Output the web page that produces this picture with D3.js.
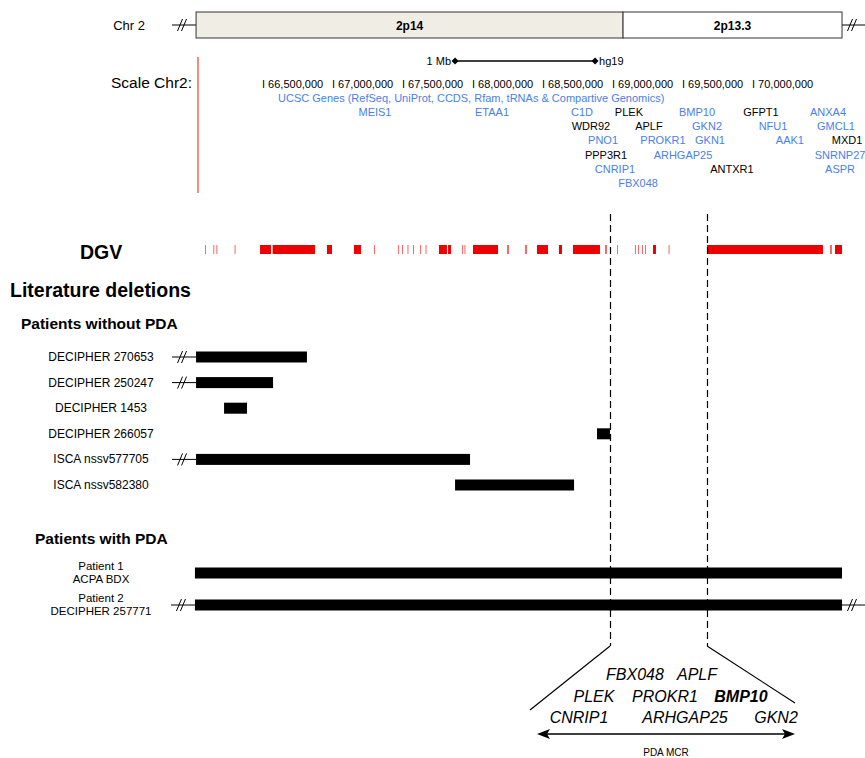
<!DOCTYPE html>
<html>
<head>
<meta charset="utf-8">
<script src="https://d3js.org/d3.v7.min.js"></script>
<style>
  body { margin: 0; background: #fff; }
  svg { display: block; font-family: "Liberation Sans", Arial, sans-serif; }
</style>
</head>
<body>
<span></span>
<script>
let width = 865;
let height = 758;

// chromosome bands, positions in Mb (hg19)
let bandNames = ["2p14", "2p13.3"];
let bandStarts = [66.029, 69.079];
let bandEnds = [69.079, 70.643];

// scale ruler
let tickValues = [66.5, 67.0, 67.5, 68.0, 68.5, 69.0, 69.5, 70.0];
let tickLabels = ["66,500,000", "67,000,000", "67,500,000", "68,000,000", "68,500,000", "69,000,000", "69,500,000", "70,000,000"];

// UCSC gene labels: name, position (Mb), track row
let geneNames = ["MEIS1", "ETAA1", "C1D", "PLEK", "BMP10", "GFPT1", "ANXA4",
    "WDR92", "APLF", "GKN2", "NFU1", "GMCL1",
    "PNO1", "PROKR1", "GKN1", "AAK1", "MXD1",
    "PPP3R1", "ARHGAP25", "SNRNP27",
    "CNRIP1", "ANTXR1", "ASPR",
    "FBX048"];
let genePos = [67.307, 68.143, 68.786, 69.121, 69.607, 70.064, 70.543,
    68.850, 69.264, 69.679, 70.150, 70.600,
    68.936, 69.364, 69.700, 70.271, 70.679,
    68.957, 69.507, 70.629,
    69.021, 69.857, 70.629,
    69.186];
let geneRow = [0, 0, 0, 0, 0, 0, 0,
    1, 1, 1, 1, 1,
    2, 2, 2, 2, 2,
    3, 3, 3,
    4, 4, 4,
    5];
let darkGenes = ["PLEK", "GFPT1", "WDR92", "APLF", "MXD1", "PPP3R1", "ANTXR1"];

// DGV copy number variants (Mb)
let dgvStart = [66.093, 66.152, 66.174, 66.304, 66.486, 66.576, 66.964, 67.157, 67.300,
    67.471, 67.500, 67.539, 67.579, 67.629, 67.668, 67.764, 67.829, 67.929, 67.946,
    68.007, 68.250, 68.379, 68.464, 68.621, 68.721, 68.950, 69.036, 69.164, 69.186,
    69.214, 69.236, 69.293, 69.404, 69.679, 70.557, 70.593];
let dgvEnd = [66.100, 66.159, 66.181, 66.311, 66.564, 66.879, 67.000, 67.207, 67.307,
    67.478, 67.507, 67.546, 67.586, 67.636, 67.675, 67.821, 67.850, 67.936, 67.953,
    68.186, 68.264, 68.393, 68.543, 68.643, 68.914, 68.964, 69.043, 69.171, 69.193,
    69.221, 69.243, 69.314, 69.411, 70.507, 70.571, 70.643];

// literature deletions (Mb)
let delNames = ["DECIPHER 270653", "DECIPHER 250247", "DECIPHER 1453", "DECIPHER 266057",
    "ISCA nssv577705", "ISCA nssv582380"];
let delStart = [66.029, 66.029, 66.229, 68.893, 66.029, 67.879];
let delEnd = [66.821, 66.579, 66.393, 68.986, 67.986, 68.729];
let delBreakLeft = [true, true, false, false, true, false];

let pdaNames = [["Patient 1", "ACPA BDX"], ["Patient 2", "DECIPHER 257771"]];
let pdaStart = [66.021, 66.021];
let pdaEnd = [70.643, 70.643];
let pdaBreakLeft = [false, true];
let pdaBreakRight = [false, true];

// minimal critical region
let mcrStart = 68.986;
let mcrEnd = 69.679;
let mcrGenes = [["FBX048", "APLF"], ["PLEK", "PROKR1", "BMP10"], ["CNRIP1", "ARHGAP25", "GKN2"]];
let mcrBold = ["BMP10"];

let svg = d3.select("span")
    .append("svg")
    .attr("width", width)
    .attr("height", height);

let x = d3.scaleLinear().domain([66.5, 70.0]).range([262, 752]);
let blue = "#4a80eb";

function breakMark(cx, cy) {
    let g = svg.append("g");
    g.append("line").attr("x1", cx - 12).attr("y1", cy).attr("x2", cx + 12).attr("y2", cy)
        .style("stroke", "#000").style("stroke-width", 1);
    [-4, 0].forEach(function (o) {
        g.append("line")
            .attr("x1", cx + o - 2.5).attr("y1", cy + 6)
            .attr("x2", cx + o + 2.5).attr("y2", cy - 6)
            .style("stroke", "#000").style("stroke-width", 1);
    });
}

// ideogram
svg.append("text").attr("x", 145).attr("y", 30).attr("text-anchor", "end")
    .style("font-size", "13px").text("Chr 2");
breakMark(184, 25);
breakMark(854, 25);

let bands = svg.append("g");
bands.selectAll("rect").data(bandNames).join("rect")
    .attr("x", (d, i) => x(bandStarts[i]))
    .attr("y", 12)
    .attr("width", (d, i) => x(bandEnds[i]) - x(bandStarts[i]))
    .attr("height", 26)
    .style("fill", (d, i) => i == 0 ? "#efede4" : "#fff")
    .style("stroke", "#333")
    .style("stroke-width", 1);
bands.selectAll("text").data(bandNames).join("text")
    .attr("x", (d, i) => (x(bandStarts[i]) + x(bandEnds[i])) / 2)
    .attr("y", 30)
    .attr("text-anchor", "middle")
    .style("font-size", "12px")
    .style("font-weight", "bold")
    .text(d => d);

// scale bar
let sb = svg.append("g");
let sbStart = 67.879;
sb.append("line").attr("x1", x(sbStart)).attr("x2", x(sbStart + 1)).attr("y1", 61).attr("y2", 61)
    .style("stroke", "#000").style("stroke-width", 1.5);
[sbStart, sbStart + 1].forEach(function (v) {
    sb.append("path")
        .attr("d", `M${x(v) - 3.5},61 L${x(v)},57.5 L${x(v) + 3.5},61 L${x(v)},64.5 Z`)
        .style("fill", "#000");
});
sb.append("text").attr("x", x(sbStart) - 4).attr("y", 65).attr("text-anchor", "end")
    .style("font-size", "11px").text("1 Mb");
sb.append("text").attr("x", x(sbStart + 1) + 4).attr("y", 65)
    .style("font-size", "11px").text("hg19");

svg.append("text").attr("x", 111).attr("y", 88).style("font-size", "15.5px").text("Scale Chr2:");
svg.append("line").attr("x1", 198).attr("x2", 198).attr("y1", 57).attr("y2", 193)
    .style("stroke", "#e8412c").style("stroke-width", 1.2);

svg.append("g").selectAll("text").data(tickValues).join("text")
    .attr("x", d => x(d))
    .attr("y", 88)
    .style("font-size", "11px")
    .text((d, i) => "I " + tickLabels[i]);

svg.append("text").attr("x", 278).attr("y", 102)
    .style("font-size", "11px").style("fill", blue)
    .text("UCSC Genes (RefSeq, UniProt, CCDS, Rfam, tRNAs & Compartive Genomics)");

svg.append("g").selectAll("text").data(geneNames).join("text")
    .attr("x", (d, i) => x(genePos[i]))
    .attr("y", (d, i) => 116 + geneRow[i] * 14.2)
    .attr("text-anchor", "middle")
    .style("font-size", "11px")
    .style("fill", d => darkGenes.includes(d) ? "#000" : blue)
    .text(d => d);

// DGV track
svg.append("text").attr("x", 80).attr("y", 259)
    .style("font-size", "19.5px").style("font-weight", "bold").text("DGV");
svg.append("g").selectAll("rect").data(dgvStart).join("rect")
    .attr("x", (d, i) => x(d))
    .attr("y", 245)
    .attr("width", (d, i) => Math.max(1, x(dgvEnd[i]) - x(d)))
    .attr("height", 9)
    .style("fill", "#ee0000")
    .style("opacity", (d, i) => x(dgvEnd[i]) - x(d) < 2 ? 0.6 : 1);

// section headers
svg.append("text").attr("x", 10).attr("y", 297)
    .style("font-size", "19.5px").style("font-weight", "bold").text("Literature deletions");
svg.append("text").attr("x", 21).attr("y", 329)
    .style("font-size", "15.5px").style("font-weight", "bold").text("Patients without PDA");
svg.append("text").attr("x", 35).attr("y", 544)
    .style("font-size", "15.5px").style("font-weight", "bold").text("Patients with PDA");

// deletions without PDA
let rowY = d3.scalePoint().domain(delNames).range([357, 485]);
let dels = svg.append("g");
dels.selectAll("text").data(delNames).join("text")
    .attr("x", 101)
    .attr("y", d => rowY(d) + 4)
    .attr("text-anchor", "middle")
    .style("font-size", "12px")
    .text(d => d);
dels.selectAll("rect").data(delNames).join("rect")
    .attr("x", (d, i) => x(delStart[i]))
    .attr("y", d => rowY(d) - 5.5)
    .attr("width", (d, i) => x(delEnd[i]) - x(delStart[i]))
    .attr("height", 11)
    .style("fill", "#000");
delNames.forEach(function (d, i) {
    if (delBreakLeft[i]) breakMark(x(delStart[i]) - 12, rowY(d));
});

// deletions with PDA
let pdaY = [573, 605];
let pda = svg.append("g");
pdaNames.forEach(function (lines, i) {
    lines.forEach(function (t, j) {
        pda.append("text").attr("x", 101).attr("y", pdaY[i] - 3 + j * 12.5)
            .attr("text-anchor", "middle").style("font-size", "11.5px").text(t);
    });
    pda.append("rect")
        .attr("x", x(pdaStart[i]))
        .attr("y", pdaY[i] - 5.5)
        .attr("width", x(pdaEnd[i]) - x(pdaStart[i]))
        .attr("height", 11)
        .style("fill", "#000");
    if (pdaBreakLeft[i]) breakMark(x(pdaStart[i]) - 12, pdaY[i]);
    if (pdaBreakRight[i]) breakMark(x(pdaEnd[i]) + 12, pdaY[i]);
});

// MCR boundaries
[mcrStart, mcrEnd].forEach(function (v) {
    let xv = Math.round(x(v)) + 0.5;
    svg.append("line")
        .attr("x1", xv).attr("x2", xv)
        .attr("y1", 214).attr("y2", 646)
        .style("stroke", "#000").style("stroke-width", 1.2)
        .style("stroke-dasharray", "7,4");
});
svg.append("line").attr("x1", x(mcrStart)).attr("y1", 646).attr("x2", 530).attr("y2", 710)
    .style("stroke", "#000").style("stroke-width", 1.2);
svg.append("line").attr("x1", x(mcrEnd)).attr("y1", 646).attr("x2", 795).attr("y2", 703)
    .style("stroke", "#000").style("stroke-width", 1.2);

// MCR gene list
let mcrX = [[635, 697], [594, 665, 741], [579, 685, 776]];
let mcrY = [680, 702, 723];
mcrGenes.forEach(function (row, r) {
    row.forEach(function (g, c) {
        svg.append("text")
            .attr("x", mcrX[r][c])
            .attr("y", mcrY[r])
            .attr("text-anchor", "middle")
            .style("font-size", "16px")
            .style("font-style", "italic")
            .style("font-weight", mcrBold.includes(g) ? "bold" : "normal")
            .text(g);
    });
});

// MCR arrow
let ay = 734;
svg.append("line").attr("x1", 545).attr("x2", 787).attr("y1", ay).attr("y2", ay)
    .style("stroke", "#000").style("stroke-width", 1.5);
svg.append("path").attr("d", `M537,${ay} L550,${ay - 5} L547,${ay} L550,${ay + 5} Z`).style("fill", "#000");
svg.append("path").attr("d", `M795,${ay} L782,${ay - 5} L785,${ay} L782,${ay + 5} Z`).style("fill", "#000");
svg.append("text").attr("x", 666).attr("y", 756).attr("text-anchor", "middle")
    .style("font-size", "10px").text("PDA MCR");
</script>
</body>
</html>
